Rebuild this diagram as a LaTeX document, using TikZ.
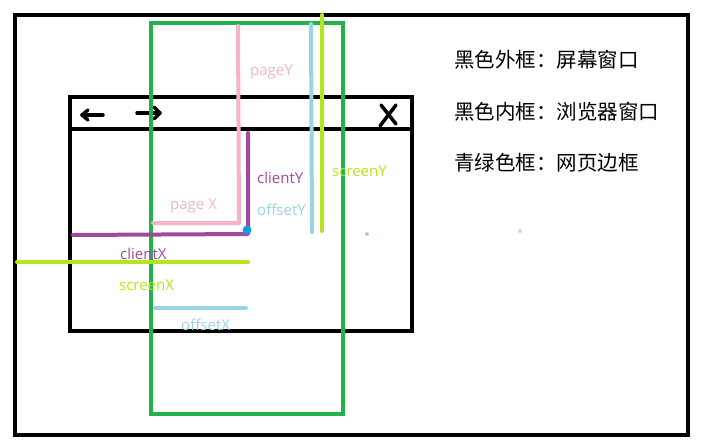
\documentclass[tikz,border=0pt]{standalone}
\usepackage{fontspec}
\setmainfont{Open Sans}
\newfontfamily\cjk{Noto Sans CJK SC}
\definecolor{pinkc}{HTML}{F4B4C8}
\definecolor{purplec}{HTML}{9E4A9E}
\definecolor{lbluec}{HTML}{9CD3E3}
\definecolor{limec}{HTML}{B5E61D}
\definecolor{greenc}{HTML}{22B14C}
\definecolor{dotblue}{HTML}{1A9AD6}
\tikzset{
  frame/.style={draw=black,line width=4pt},
  page/.style={draw=greenc,line width=4pt},
  meas/.style={line width=4pt,line cap=round,line join=round},
  lbl/.style={font=\fontsize{15}{17}\selectfont,anchor=west,inner sep=0pt},
  zh/.style={font=\cjk\fontsize{20.5}{23}\selectfont,anchor=west,inner sep=0pt},
  icon/.style={line width=3.5pt,line cap=round}
}
\begin{document}
\begin{tikzpicture}[x=1pt,y=-1pt]
\useasboundingbox (0,0) rectangle (706,447);
\fill[white] (0,0) rectangle (706,447);
% screen
\draw[frame] (15,15) rectangle (688,435);
% browser
\draw[frame] (70,97) rectangle (412,331);
\draw[frame] (68,129) -- (412,129);
% toolbar icons
\coordinate (la1) at (82,115); \coordinate (la2) at (103,115);
\draw[icon] (la1) -- (la2);
\draw[icon] (la1) -- ++(6,-5); \draw[icon] (la1) -- ++(6,5);
\coordinate (ra1) at (137,113); \coordinate (ra2) at (160,113);
\draw[icon] (ra1) -- (ra2);
\draw[icon] (ra2) -- ++(-6,-6); \draw[icon] (ra2) -- ++(-6,6);
\coordinate (xa) at (381,105); \coordinate (xb) at (396,124);
\coordinate (xc) at (396,105); \coordinate (xd) at (380,126);
\draw[icon] (xa) -- (xb); \draw[icon] (xc) -- (xd);
% page (green)
\draw[page] (151,23) rectangle (343,414);
% pageY / pageX (pink)
\coordinate (p1) at (238,26); \coordinate (p2) at (239,223); \coordinate (p3) at (153,223);
\draw[meas,pinkc] (p1) -- (p2) -- (p3);
% client (purple)
\coordinate (c1) at (248,133); \coordinate (c2) at (248,234); \coordinate (c3) at (73,235);
\draw[meas,purplec] (c1) -- (c2) -- (c3);
% offsetY (light blue), screenY (lime)
\coordinate (o1) at (311,24); \coordinate (o2) at (312,232);
\draw[meas,lbluec] (o1) -- (o2);
\coordinate (s1) at (322,15); \coordinate (s2) at (322,231);
\draw[meas,limec] (s1) -- (s2);
% screenX
\coordinate (sx1) at (17,262); \coordinate (sx2) at (248,262);
\draw[meas,limec] (sx1) -- (sx2);
% offsetX
\coordinate (ox1) at (155,308); \coordinate (ox2) at (246,308);
\draw[meas,lbluec] (ox1) -- (ox2);
% mouse point
\node[circle,fill=dotblue,minimum size=9pt,inner sep=0pt] (mp) at (247,230) {};
\node[circle,fill=lbluec,minimum size=4pt,inner sep=0pt] (d1) at (367,234) {};
\node[circle,fill=pinkc!80,minimum size=4pt,inner sep=0pt] (d2) at (520,231) {};
% labels
\node[lbl,text=pinkc] (tpy) at (250,72) {pageY};
\node[lbl,text=pinkc] (tpx) at (170,206) {page X};
\node[lbl,text=purplec] (tcy) at (257,178) {clientY};
\node[lbl,text=lbluec] (toy) at (257,210) {offsetY};
\node[lbl,text=limec] (tsy) at (332,171) {screenY};
\node[lbl,text=purplec] (tcx) at (120,254) {clientX};
\node[lbl,text=limec] (tsx) at (119,285) {screenX};
\node[lbl,text=lbluec] (tox) at (181,325) {offsetX};
% legend
\node[zh] (z1) at (454,60) {黑色外框：屏幕窗口};
\node[zh] (z2) at (454,112) {黑色内框：浏览器窗口};
\node[zh] (z3) at (454,163) {青绿色框：网页边框};
\end{tikzpicture}
\end{document}
